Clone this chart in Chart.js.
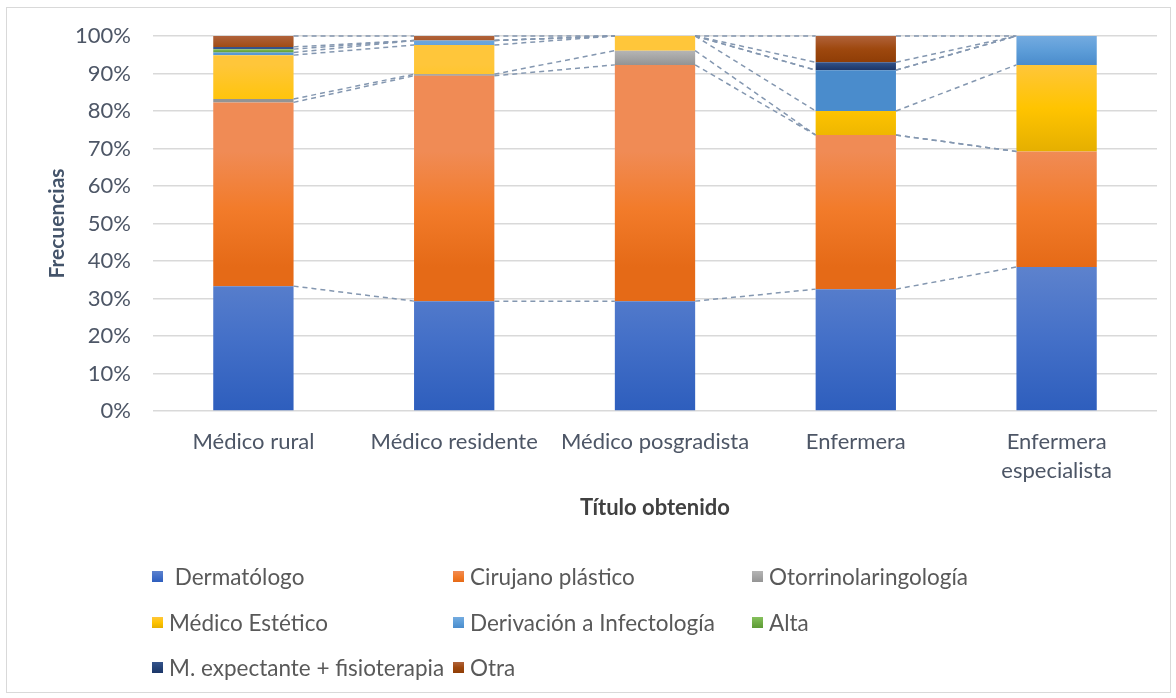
<!DOCTYPE html>
<html>
<head>
<meta charset="utf-8">
<script src="https://cdn.jsdelivr.net/npm/chart.js@4"></script>
<style>
  html, body { margin: 0; padding: 0; background: #fff; }
  #wrap { position: relative; width: 1176px; height: 698px; }
  #frame { position: absolute; left: 6px; top: 7px; width: 1163px; height: 684px; border: 1px solid #d9d9d9; }
  #chart { position: absolute; left: 0; top: 0; }
  #legend { position: absolute; left: 0; top: 0; font-family: Lato, sans-serif; font-size: 22.5px; color: #595959; }
  .item { position: absolute; display: flex; align-items: center; white-space: pre; }
  .box { width: 11px; height: 11px; margin-right: 6px; }
</style>
</head>
<body>
<div id="wrap">
  <div id="frame"></div>
  <canvas id="chart" width="1176" height="698"></canvas>
  <div id="legend"></div>
</div>
<script>
const categories = ["Médico rural", "Médico residente", "Médico posgradista", "Enfermera", ["Enfermera", "especialista"]];
const seriesNames = [" Dermatólogo", "Cirujano plástico", "Otorrinolaringología", "Médico Estético", "Derivación a Infectología", "Alta", "M. expectante + fisioterapia", "Otra"];

const dermatologo = [33.3, 29.3, 29.3, 32.5, 38.4];
const cirujano = [49.0, 60.1, 63.0, 41.1, 30.8];
const otorrino = [0.9, 0.4, 3.8, 0, 0];
const esteticos = [11.7, 7.8, 3.9, 6.4, 23.1];
const infectologia = [0.7, 1.2, 0, 10.9, 7.7];
const alta = [0.9, 0, 0, 0, 0];
const expectante = [0.6, 0, 0, 2.1, 0];
const otra = [2.9, 1.2, 0, 7.0, 0];

const yTicks = [0, 10, 20, 30, 40, 50, 60, 70, 80, 90, 100];

const seriesValues = [dermatologo, cirujano, otorrino, esteticos, infectologia, alta, expectante, otra];
// top / middle / bottom colours of each segment gradient
const seriesColors = [
  ["#5d82cd", "#4470c8", "#2e5ebd"],
  ["#f08b55", "#f27b2a", "#e56a17"],
  ["#b5b5b5", "#a5a5a5", "#949494"],
  ["#ffc63a", "#ffc400", "#e5af00"],
  ["#74abe0", "#5d9dd8", "#4a8ccc"],
  ["#86c15d", "#70ad47", "#5e9a36"],
  ["#35548c", "#264478", "#1c3668"],
  ["#b0623a", "#9e480e", "#8f3d06"]
];

const font = "Lato, sans-serif";
const textColor = "#4d5666";

const datasets = seriesValues.map((vals, i) => ({
  label: seriesNames[i],
  data: vals,
  backgroundColor: seriesColors[i][1],
  borderWidth: 0,
  barPercentage: 0.4,
  categoryPercentage: 1
}));

const gradientFill = {
  id: "gradientFill",
  beforeDatasetsDraw(chart) {
    const ctx = chart.ctx;
    chart.data.datasets.forEach((ds, i) => {
      const meta = chart.getDatasetMeta(i);
      const c = seriesColors[i];
      meta.data.forEach(el => {
        const top = Math.min(el.y, el.base);
        const bot = Math.max(el.y, el.base);
        if (bot - top < 0.5) return;
        const g = ctx.createLinearGradient(0, top, 0, bot);
        g.addColorStop(0, c[0]);
        g.addColorStop(0.5, c[1]);
        g.addColorStop(1, c[2]);
        el.options.backgroundColor = g;
      });
    });
  }
};

// Excel-style series lines joining the top of each segment between bars
const seriesLines = {
  id: "seriesLines",
  afterDatasetsDraw(chart) {
    const ctx = chart.ctx;
    ctx.save();
    ctx.strokeStyle = "#8497b0";
    ctx.lineWidth = 1.5;
    ctx.setLineDash([5, 4]);
    chart.data.datasets.forEach((ds, i) => {
      const els = chart.getDatasetMeta(i).data;
      for (let j = 0; j < els.length - 1; j++) {
        const a = els[j], b = els[j + 1];
        ctx.beginPath();
        ctx.moveTo(a.x + a.width / 2, a.y);
        ctx.lineTo(b.x - b.width / 2, b.y);
        ctx.stroke();
      }
    });
    ctx.restore();
  }
};

const chart = new Chart(document.getElementById("chart"), {
  type: "bar",
  data: { labels: categories, datasets },
  plugins: [gradientFill, seriesLines],
  options: {
    responsive: false,
    animation: false,
    layout: { padding: { left: 45, right: 19, top: 36, bottom: 177 } },
    plugins: {
      legend: { display: false },
      tooltip: { enabled: false }
    },
    scales: {
      x: {
        stacked: true,
        grid: { display: false, drawTicks: false },
        border: { display: false },
        ticks: { color: textColor, font: { family: font, size: 22, lineHeight: 1.32 }, padding: 16, maxRotation: 0 },
        title: { display: true, text: "Título obtenido", color: "#404040", font: { family: font, size: 22, weight: "bold" }, padding: 0 },
        afterFit(s) { s.height = 110; }
      },
      y: {
        stacked: true,
        min: 0,
        max: 100,
        afterBuildTicks(s) { s.ticks = yTicks.map(v => ({ value: v })); },
        grid: { color: "#d9d9d9", lineWidth: 1.5, drawTicks: false },
        border: { display: false },
        ticks: { color: textColor, font: { family: font, size: 22 }, padding: 22, callback: v => v + "%" },
        title: { display: true, text: "Frecuencias", color: "#44546a", font: { family: font, size: 21, weight: "bold" }, padding: 0 },
        afterFit(s) { s.width = 108; }
      }
    }
  }
});

// legend in three columns, built from the datasets
const legend = document.getElementById("legend");
const colX = [152, 453, 752];
const rowY = [576, 622, 667];
chart.data.datasets.forEach((ds, i) => {
  const c = seriesColors[i];
  const item = document.createElement("div");
  item.className = "item";
  item.style.left = colX[i % 3] + "px";
  item.style.top = (rowY[Math.floor(i / 3)] - 14) + "px";
  item.style.height = "28px";
  const box = document.createElement("span");
  box.className = "box";
  box.style.background = "linear-gradient(" + c[0] + "," + c[1] + "," + c[2] + ")";
  const txt = document.createElement("span");
  txt.textContent = ds.label;
  item.appendChild(box);
  item.appendChild(txt);
  legend.appendChild(item);
});
</script>
</body>
</html>
